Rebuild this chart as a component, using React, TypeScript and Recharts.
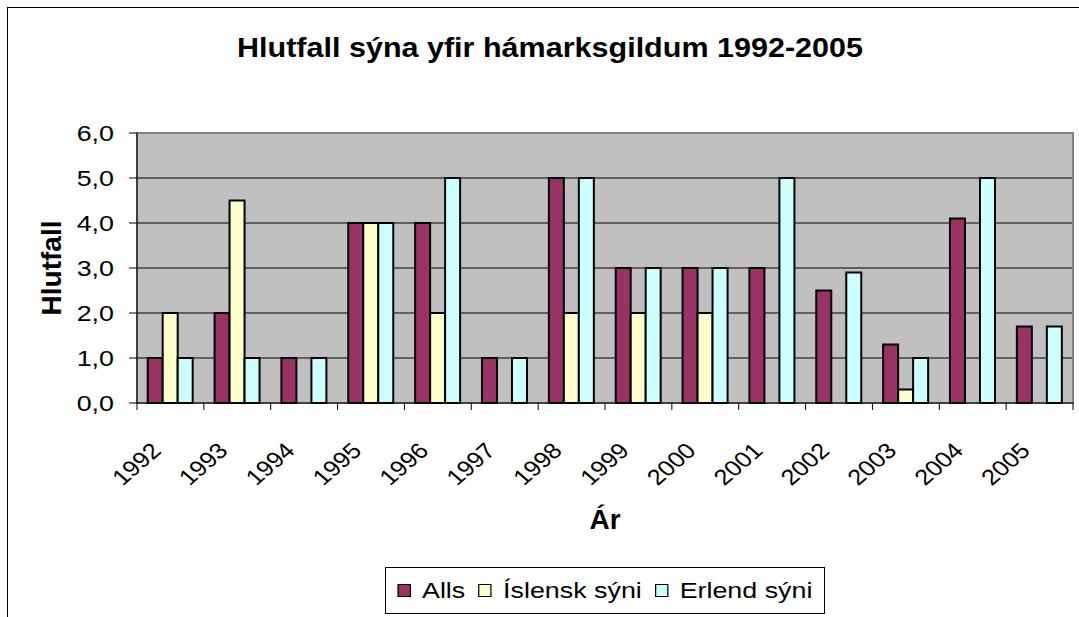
import React from "react";
import { BarChart, Bar, XAxis, YAxis, CartesianGrid, Legend, ReferenceArea } from "recharts";

const years = ["1992", "1993", "1994", "1995", "1996", "1997", "1998", "1999", "2000", "2001", "2002", "2003", "2004", "2005"];
const allsValues = [1, 2, 1, 4, 4, 1, 5, 3, 3, 3, 2.5, 1.3, 4.1, 1.7];
const islenskValues = [2, 4.5, null, 4, 2, null, 2, 2, 2, null, null, 0.3, null, null];
const erlendValues = [1, 1, 1, 4, 5, 1, 5, 3, 3, 5, 2.9, 1, 5, 1.7];
const yTicks = [0, 1, 2, 3, 4, 5, 6];
const seriesOrder = ["alls", "islensk", "erlend"];

const FONT = "'Liberation Sans', Arial, sans-serif";
// the source text is a bit wider than Liberation Sans at the same height
const STRETCH = 1.22;

const data = years.map((year, i) => ({
  year,
  alls: allsValues[i],
  islensk: islenskValues[i],
  erlend: erlendValues[i],
}));

const YTick = (props: any) => {
  const { x, y, payload } = props;
  return (
    <text
      transform={`translate(${x},${y}) scale(${STRETCH},1)`}
      textAnchor="end"
      dy={8}
      fontSize={22}
      fontFamily={FONT}
      fill="#000"
    >
      {Number(payload.value).toFixed(1).replace(".", ",")}
    </text>
  );
};

const XTick = (props: any) => {
  const { x, y, payload, index } = props;
  const half = payload.offset || 0;
  return (
    <g>
      <line x1={x - half} x2={x - half} y1={y} y2={y + 7} stroke="#000" />
      {index === years.length - 1 && <line x1={x + half} x2={x + half} y1={y} y2={y + 7} stroke="#000" />}
      <text
        transform={`translate(${x - 8},${y + 49}) scale(1.15,1) rotate(-45)`}
        textAnchor="end"
        fontSize={22}
        fontFamily={FONT}
        fill="#000"
      >
        {payload.value}
      </text>
    </g>
  );
};

const renderYLabel = (props: any) => {
  const vb = props.viewBox;
  return (
    <text
      transform={`translate(${vb.x + 24},${vb.y + vb.height / 2}) rotate(-90)`}
      textAnchor="middle"
      fontSize={28}
      fontWeight="bold"
      fontFamily={FONT}
      fill="#000"
    >
      Hlutfall
    </text>
  );
};

const renderXLabel = (props: any) => {
  const vb = props.viewBox;
  return (
    <text
      x={vb.x + vb.width / 2}
      y={vb.y + 126}
      textAnchor="middle"
      fontSize={28}
      fontWeight="bold"
      fontFamily={FONT}
      fill="#000"
    >
      Ár
    </text>
  );
};

const renderLegend = (props: any) => {
  const items = [...(props.payload || [])].sort(
    (a: any, b: any) => seriesOrder.indexOf(a.dataKey) - seriesOrder.indexOf(b.dataKey)
  );
  return (
    <div
      style={{
        boxSizing: "border-box",
        width: 440,
        height: 47,
        border: "1px solid #000",
        background: "#fff",
        display: "flex",
        alignItems: "center",
        justifyContent: "center",
      }}
    >
      <div
        style={{
          display: "flex",
          alignItems: "center",
          transform: `scaleX(${STRETCH})`,
          fontSize: 22,
          lineHeight: "22px",
          fontFamily: FONT,
          color: "#000",
          whiteSpace: "nowrap",
        }}
      >
        {items.map((entry: any, i: number) => (
          <span key={`leg-${i}`} style={{ display: "flex", alignItems: "center", marginLeft: i ? 11 : 0 }}>
            <span
              style={{
                display: "inline-block",
                boxSizing: "border-box",
                width: 11,
                height: 13,
                background: entry.color,
                border: "1.5px solid #000",
                marginRight: 9,
              }}
            />
            <span>{entry.value}</span>
          </span>
        ))}
      </div>
    </div>
  );
};

export default function App() {
  return (
    <div
      style={{
        position: "absolute",
        left: 0,
        top: 0,
        width: 1079,
        height: 617,
        overflow: "hidden",
        background: "#fff",
        fontFamily: FONT,
      }}
    >
      <div
        style={{
          position: "absolute",
          left: 7,
          top: 7,
          width: 1200,
          height: 700,
          border: "1px solid #000",
        }}
      />
      <div
        style={{
          position: "absolute",
          left: 0,
          top: 34,
          width: 1100,
          textAlign: "center",
          fontSize: 28,
          lineHeight: "28px",
          fontWeight: "bold",
          color: "#000",
          transform: "scaleX(1.09)",
          whiteSpace: "nowrap",
        }}
      >
        Hlutfall sýna yfir hámarksgildum 1992-2005
      </div>
      <div style={{ position: "absolute", left: 0, top: 0 }}>
        <BarChart
          width={1079}
          height={617}
          data={data}
          margin={{ top: 133, right: 6, bottom: 154, left: 37 }}
          barCategoryGap="16%"
          barGap={0}
        >
          <CartesianGrid vertical={false} stroke="#000" fill="#C0C0C0" />
          <ReferenceArea y1={0} y2={6} fill="none" stroke="#808080" strokeWidth={2} ifOverflow="visible" />
          <XAxis
            dataKey="year"
            interval={0}
            height={60}
            tickLine={false}
            tickSize={0}
            tickMargin={0}
            axisLine={{ stroke: "#000" }}
            tick={<XTick />}
            label={renderXLabel}
          />
          <YAxis
            domain={[0, 6]}
            ticks={yTicks}
            interval={0}
            width={100}
            tickSize={8}
            tickMargin={15}
            axisLine={{ stroke: "#000" }}
            tickLine={{ stroke: "#000" }}
            tick={<YTick />}
            label={renderYLabel}
          />
          <Bar dataKey="alls" name="Alls" fill="#993366" stroke="#000" strokeWidth={2} isAnimationActive={false} />
          <Bar dataKey="islensk" name="Íslensk sýni" fill="#FFFFCC" stroke="#000" strokeWidth={2} isAnimationActive={false} />
          <Bar dataKey="erlend" name="Erlend sýni" fill="#CCFFFF" stroke="#000" strokeWidth={2} isAnimationActive={false} />
          <Legend
            layout="horizontal"
            verticalAlign="middle"
            align="center"
            content={renderLegend}
            wrapperStyle={{ left: 385, top: 567, width: 440, height: 47 }}
          />
        </BarChart>
      </div>
    </div>
  );
}
